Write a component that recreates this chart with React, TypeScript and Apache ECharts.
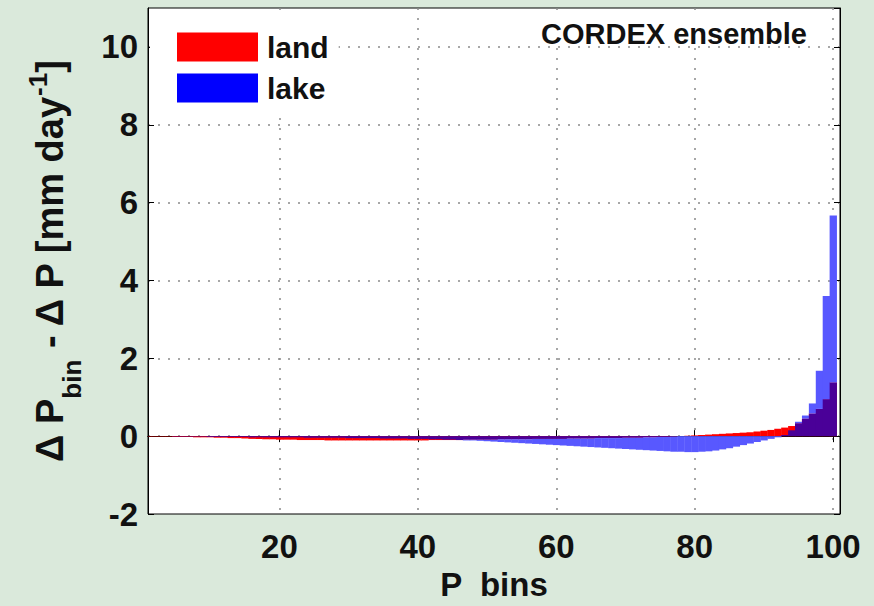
import React, { useEffect, useRef } from 'react';
import * as echarts from 'echarts';

// Δ P_bin − Δ P per precipitation bin (1..100), CORDEX ensemble
const land = [
  -0.01, -0.01, -0.01, -0.01, -0.02, -0.02, -0.02, -0.03, -0.03, -0.03,
  -0.04, -0.04, -0.05, -0.05, -0.06, -0.07, -0.07, -0.08, -0.08, -0.09,
  -0.09, -0.09, -0.1, -0.1, -0.1, -0.1, -0.11, -0.11, -0.11, -0.11,
  -0.11, -0.11, -0.11, -0.11, -0.11, -0.11, -0.11, -0.11, -0.11, -0.11,
  -0.11, -0.1, -0.1, -0.1, -0.1, -0.1, -0.09, -0.09, -0.09, -0.09,
  -0.09, -0.08, -0.08, -0.08, -0.08, -0.08, -0.07, -0.07, -0.07, -0.07,
  -0.07, -0.06, -0.06, -0.06, -0.06, -0.05, -0.05, -0.05, -0.05, -0.04,
  -0.04, -0.04, -0.03, -0.03, -0.02, -0.02, -0.01, 0.0, 0.01, 0.02,
  0.03, 0.04, 0.05, 0.06, 0.07, 0.08, 0.09, 0.1, 0.12, 0.14,
  0.16, 0.19, 0.22, 0.26, 0.33, 0.45, 0.58, 0.7, 0.95, 1.38,
];

const lake = [
  0, 0, 0, 0, -0.01, -0.01, -0.01, -0.01, -0.01, -0.02,
  -0.02, -0.02, -0.02, -0.02, -0.02, -0.03, -0.03, -0.03, -0.03, -0.03,
  -0.03, -0.03, -0.03, -0.04, -0.04, -0.04, -0.04, -0.04, -0.04, -0.05,
  -0.05, -0.05, -0.05, -0.05, -0.06, -0.06, -0.06, -0.06, -0.07, -0.07,
  -0.07, -0.08, -0.08, -0.09, -0.09, -0.1, -0.11, -0.11, -0.12, -0.13,
  -0.14, -0.15, -0.16, -0.17, -0.18, -0.19, -0.2, -0.21, -0.22, -0.23,
  -0.24, -0.25, -0.26, -0.27, -0.28, -0.29, -0.3, -0.31, -0.32, -0.33,
  -0.34, -0.35, -0.36, -0.37, -0.38, -0.39, -0.4, -0.4, -0.41, -0.41,
  -0.4, -0.39, -0.37, -0.34, -0.31, -0.27, -0.23, -0.19, -0.15, -0.11,
  -0.07, -0.03, 0.03, 0.15, 0.37, 0.53, 0.84, 1.68, 3.6, 5.67,
];

const seriesNames = ['land', 'lake'];
const annotation = 'CORDEX ensemble';
const xName = 'P  bins';

const FONT = '"Liberation Sans", Arial, sans-serif';
const RED = '#ff0000';
const BLUE = '#5858ff';
const PURPLE = '#4a0098';
const X_MIN = 1;
const X_MAX = 101;

export default function App() {
  const ref = useRef<HTMLDivElement>(null);

  useEffect(() => {
    const chart = echarts.init(ref.current as HTMLDivElement, null, { renderer: 'svg' });

    const bins = land.map((_, i) => i + 1);
    const landData = bins.map((b, i) => [b, land[i]]);
    const lakeData = bins.map((b, i) => [b, lake[i], land[i]]);

    const rect = (api: any, x: number, a: number, b: number, fill: string) => {
      const x0 = Math.max(x - 0.5, X_MIN);
      const x1 = Math.min(x + 0.5, X_MAX);
      const p0 = api.coord([x0, a]);
      const p1 = api.coord([x1, b]);
      return {
        type: 'rect',
        shape: {
          x: p0[0],
          y: Math.min(p0[1], p1[1]),
          width: p1[0] - p0[0] + 0.4,
          height: Math.abs(p1[1] - p0[1]),
        },
        style: { fill },
      };
    };

    const tickFont = { fontFamily: FONT, fontWeight: 'bold' as const, fontSize: 33, color: '#111' };
    const gridLine = { show: true, showMinLine: false, showMaxLine: false, lineStyle: { color: '#8a8a8a', type: [2, 8] as any, width: 1.5 } };

    chart.setOption({
      animation: false,
      backgroundColor: '#dae9db',
      grid: {
        left: 148, right: 34, top: 8, bottom: 89,
        show: true, backgroundColor: '#ffffff', borderColor: '#000', borderWidth: 1,
      },
      legend: {
        orient: 'vertical',
        left: 150,
        top: 15,
        padding: [17, 10, 10, 27],
        itemWidth: 81,
        itemHeight: 29,
        itemGap: 11,
        icon: 'rect',
        selectedMode: false,
        backgroundColor: '#ffffff',
        textStyle: { fontFamily: FONT, fontWeight: 'bold', fontSize: 30, color: '#111', padding: [0, 0, 0, 4] },
        data: [
          { name: seriesNames[0], itemStyle: { color: RED } },
          { name: seriesNames[1], itemStyle: { color: '#0000ff' } },
        ],
      },
      xAxis: [
        {
          type: 'value', min: X_MIN, max: X_MAX, position: 'bottom',
          axisLine: { show: true, lineStyle: { color: '#000', width: 1 } },
          axisTick: { show: true, inside: true, length: 6, lineStyle: { color: '#000' } },
          axisLabel: { ...tickFont, margin: 16, showMinLabel: false, showMaxLabel: false },
          splitLine: gridLine,
          name: xName, nameLocation: 'middle', nameGap: 54,
          nameTextStyle: { fontFamily: FONT, fontWeight: 'bold', fontSize: 33, color: '#111' },
        },
        {
          type: 'value', min: X_MIN, max: X_MAX, position: 'top',
          axisLine: { show: true, lineStyle: { color: '#000', width: 1 } },
          axisTick: { show: true, inside: true, length: 6, lineStyle: { color: '#000' } },
          axisLabel: { show: false }, splitLine: { show: false },
        },
      ],
      yAxis: [
        {
          type: 'value', min: -2, max: 11, interval: 2, position: 'left',
          axisLine: { show: true, lineStyle: { color: '#000', width: 1 } },
          axisTick: { show: true, inside: true, length: 6, lineStyle: { color: '#000' } },
          axisLabel: { ...tickFont, margin: 10, showMaxLabel: false },
          splitLine: gridLine,
          name: '{m|Δ P}{sub|bin}{m| - Δ P [mm day}{sup|-1}{m|]}',
          nameLocation: 'middle', nameRotate: 90, nameGap: 63,
          nameTextStyle: {
            fontFamily: FONT, fontWeight: 'bold', fontSize: 38, color: '#111', lineHeight: 70,
            rich: {
              m: { fontFamily: FONT, fontWeight: 'bold', fontSize: 38, lineHeight: 70, color: '#111' },
              sub: { fontFamily: FONT, fontWeight: 'bold', fontSize: 26, lineHeight: 26, verticalAlign: 'bottom', color: '#111' },
              sup: { fontFamily: FONT, fontWeight: 'bold', fontSize: 26, lineHeight: 26, verticalAlign: 'top', padding: [10, 0, 0, 0], color: '#111' },
            },
          },
        },
        {
          type: 'value', min: -2, max: 11, interval: 2, position: 'right',
          axisLine: { show: true, lineStyle: { color: '#000', width: 1 } },
          axisTick: { show: true, inside: true, length: 6, lineStyle: { color: '#000' } },
          axisLabel: { show: false }, splitLine: { show: false },
        },
      ],
      graphic: [
        {
          type: 'text', x: 811, y: 16, z: 10,
          style: {
            text: annotation, align: 'right', verticalAlign: 'top',
            fontFamily: FONT, fontWeight: 'bold', fontSize: 29, lineHeight: 24,
            fill: '#111', backgroundColor: '#ffffff', padding: [6, 4, 0, 4],
          },
        },
      ],
      series: [
        {
          name: seriesNames[0], type: 'custom', xAxisIndex: 0, yAxisIndex: 0,
          itemStyle: { color: RED },
          data: landData,
          renderItem: (params: any, api: any) => rect(api, api.value(0), 0, api.value(1), RED),
        },
        {
          name: seriesNames[1], type: 'custom', xAxisIndex: 0, yAxisIndex: 0,
          itemStyle: { color: '#0000ff' },
          data: lakeData,
          renderItem: (params: any, api: any) => {
            const x = api.value(0);
            const v = api.value(1);
            const l = api.value(2);
            const children: any[] = [];
            if (v * l > 0) {
              const ov = Math.sign(v) * Math.min(Math.abs(v), Math.abs(l));
              children.push(rect(api, x, 0, ov, PURPLE));
              if (Math.abs(v) > Math.abs(l)) children.push(rect(api, x, ov, v, BLUE));
            } else if (v !== 0) {
              children.push(rect(api, x, 0, v, BLUE));
            }
            return { type: 'group', children };
          },
        },
      ],
    });

    return () => chart.dispose();
  }, []);

  return <div ref={ref} style={{ position: 'absolute', left: 0, top: 0, width: 874, height: 606 }} />;
}
